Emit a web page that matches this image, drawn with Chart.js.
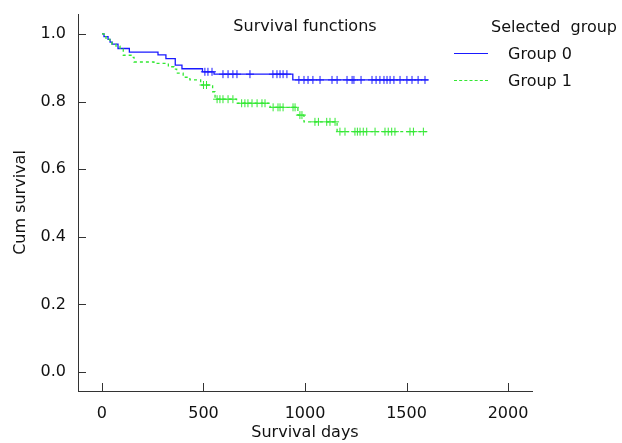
<!DOCTYPE html>
<html>
<head>
<meta charset="utf-8">
<script src="https://cdn.jsdelivr.net/npm/chart.js@4.4.0/dist/chart.umd.min.js"></script>
<style>
  html, body { margin: 0; padding: 0; background: #fff; }
  #wrap { position: relative; width: 622px; height: 443px; font-family: "DejaVu Sans", sans-serif; font-size: 16px; color: #111; }
  #wrap canvas { position: absolute; left: 0; top: 0; }
  .txt { position: absolute; line-height: 19px; white-space: pre; }
  .key { position: absolute; width: 34px; height: 0; }
</style>
</head>
<body>
<div id="wrap">
  <canvas id="km" width="622" height="443"></canvas>
  <div class="txt" style="left:205px; width:200px; text-align:center; top:16px;">Survival functions</div>
  <div class="txt" style="left:491px; top:17px;">Selected  group</div>
  <div class="key" style="left:454px; top:53px; border-top:1.3px solid #1a1aff;"></div>
  <div class="txt" style="left:508px; top:44px;">Group 0</div>
  <div class="key" style="left:454px; top:80px; border-top:1.3px dashed #33e833;"></div>
  <div class="txt" style="left:508px; top:71px;">Group 1</div>
</div>
<script>
// tick labels
const xTicks = [0, 500, 1000, 1500, 2000];
const yTicks = [0, 0.2, 0.4, 0.6, 0.8, 1.0];

// group 0 : step times and survival after each step
const g0Times = [0, 10, 30, 40, 50, 79, 135, 276, 315, 361, 394, 495, 552, 940];
const g0Surv  = [1.0, 0.992, 0.984, 0.976, 0.970, 0.957, 0.946, 0.938, 0.927, 0.908, 0.897, 0.888, 0.881, 0.864];
const g0End = 1606;
const g0Censor = [507, 522, 542, 596, 621, 645, 665, 729, 842, 862, 877, 892, 911, 970, 995, 1015, 1039, 1074,
  1133, 1158, 1207, 1232, 1241, 1276, 1330, 1350, 1369, 1389, 1404, 1419, 1438, 1468, 1502, 1527, 1557, 1591];

// group 1
const g1Times = [0, 10, 20, 39, 49, 69, 89, 105, 148, 158, 256, 327, 355, 368, 400, 433, 486, 545, 557, 663, 828, 965, 995, 1158];
const g1Surv  = [1.0, 0.992, 0.984, 0.976, 0.970, 0.964, 0.955, 0.937, 0.931, 0.917, 0.913, 0.903, 0.896, 0.884, 0.872, 0.864, 0.849, 0.829, 0.807, 0.795, 0.783, 0.760, 0.740, 0.711];
const g1End = 1600;
const g1Censor = [500, 515, 567, 581, 596, 621, 645, 688, 704, 719, 739, 764, 788, 803, 843, 867, 877, 892, 941, 951,
  975, 985, 1049, 1066, 1107, 1123, 1148, 1172, 1197, 1246, 1258, 1271, 1287, 1304, 1345, 1394, 1410, 1427, 1443, 1517, 1534, 1583];

const blue = '#1a1aff';
const green = '#33e833';

function curve(times, surv, end){
  const pts = times.map((t, i) => ({x: t, y: surv[i]}));
  pts.push({x: end, y: surv[surv.length - 1]});
  return pts;
}
function levelAt(times, surv, t){
  let s = surv[0];
  for (let i = 0; i < times.length; i++) if (times[i] <= t) s = surv[i];
  return s;
}
function marks(times, surv, cens){
  return cens.map(t => ({x: t, y: levelAt(times, surv, t)}));
}

// ticks drawn inward from the axes
const innerTicks = {
  id: 'innerTicks',
  afterDatasetsDraw(chart){
    const {ctx, chartArea, scales} = chart;
    ctx.save();
    ctx.strokeStyle = '#333';
    ctx.lineWidth = 1;
    ctx.beginPath();
    yTicks.forEach(v => {
      const y = Math.round(scales.y.getPixelForValue(v)) + 0.5;
      ctx.moveTo(chartArea.left, y); ctx.lineTo(chartArea.left + 8, y);
    });
    xTicks.forEach(v => {
      const x = Math.round(scales.x.getPixelForValue(v)) + 0.5;
      ctx.moveTo(x, chartArea.bottom); ctx.lineTo(x, chartArea.bottom - 8);
    });
    ctx.stroke();
    ctx.restore();
  }
};

const font = {family: 'DejaVu Sans', size: 16};

new Chart(document.getElementById('km'), {
  type: 'line',
  data: {
    datasets: [
      {data: curve(g1Times, g1Surv, g1End), borderColor: green, borderWidth: 1.3, borderDash: [3, 3], stepped: true, pointRadius: 0, fill: false},
      {data: curve(g0Times, g0Surv, g0End), borderColor: blue, borderWidth: 1.3, stepped: true, pointRadius: 0, fill: false},
      {type: 'scatter', data: marks(g1Times, g1Surv, g1Censor), showLine: false, pointStyle: 'cross', pointRadius: 4, borderColor: green, borderWidth: 1},
      {type: 'scatter', data: marks(g0Times, g0Surv, g0Censor), showLine: false, pointStyle: 'cross', pointRadius: 4, borderColor: blue, borderWidth: 1}
    ]
  },
  options: {
    responsive: false,
    animation: false,
    layout: {padding: {top: 14, right: 90, left: 0, bottom: 0}},
    plugins: {legend: {display: false}, tooltip: {enabled: false}},
    scales: {
      x: {
        type: 'linear', min: -118, max: 2118,
        afterBuildTicks: s => { s.ticks = xTicks.map(v => ({value: v})); },
        afterFit: s => { s.height = 52; s.paddingLeft = 0; s.paddingRight = 0; },
        grid: {display: false, drawTicks: false},
        border: {display: true, color: '#333', width: 1},
        ticks: {font, color: '#111', padding: 13, maxRotation: 0, callback: v => String(v)},
        title: {display: true, text: 'Survival days', font, color: '#111', padding: {top: 0, bottom: 1}}
      },
      y: {
        type: 'linear', min: -0.056, max: 1.059,
        afterBuildTicks: s => { s.ticks = yTicks.map(v => ({value: v})); },
        afterFit: s => { s.width = 78; s.paddingTop = 0; s.paddingBottom = 0; },
        grid: {display: false, drawTicks: false},
        border: {display: true, color: '#333', width: 1},
        ticks: {font, color: '#111', padding: 12, callback: v => v.toFixed(1)},
        title: {display: true, text: 'Cum survival', font, color: '#111', padding: {top: 11, bottom: 0}}
      }
    }
  },
  plugins: [innerTicks]
});
</script>
</body>
</html>
